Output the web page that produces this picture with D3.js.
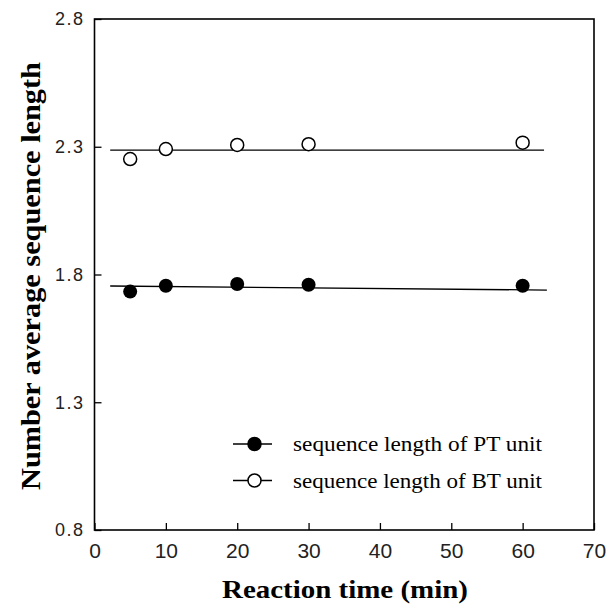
<!DOCTYPE html>
<html>
<head>
<meta charset="utf-8">
<script src="https://cdn.jsdelivr.net/npm/d3@7"></script>
<style>
  body { margin: 0; background: #fff; }
  svg { display: block; }
</style>
</head>
<body>
<svg id="svg"></svg>
<script>
let width = 606, height = 610;
let margin = { top: 19, right: 12, bottom: 80, left: 94.5 };

// reaction time (min)
let times = [5, 10, 20, 30, 60];
// sequence length of PT unit (filled)
let ptValues = [1.733, 1.756, 1.763, 1.760, 1.756];
// sequence length of BT unit (open)
let btValues = [2.252, 2.291, 2.307, 2.310, 2.316];
// fitted lines, [x, y] end points
let ptFit = [[2.2, 1.755], [63.4, 1.739]];
let btFit = [[2.2, 2.287], [63.0, 2.287]];

let xTicks = [0, 10, 20, 30, 40, 50, 60, 70];
let yTicks = [0.8, 1.3, 1.8, 2.3, 2.8];
let legendLabels = ["sequence length of PT unit", "sequence length of BT unit"];

let svg = d3.select("#svg").attr("width", width).attr("height", height);

let xScale = d3.scaleLinear().domain([0, 70]).range([margin.left, width - margin.right]);
let yScale = d3.scaleLinear().domain([0.8, 2.8]).range([height - margin.bottom, margin.top]);

let plotW = xScale(70) - xScale(0);
let plotH = yScale(0.8) - yScale(2.8);

// frame
svg.append("rect")
    .attr("x", xScale(0)).attr("y", yScale(2.8))
    .attr("width", plotW).attr("height", plotH)
    .attr("fill", "none").attr("stroke", "#000").attr("stroke-width", 1.6);

// x axis (ticks pointing in)
let xAxis = svg.append("g")
    .attr("transform", `translate(0, ${yScale(0.8)})`)
    .call(d3.axisBottom(xScale).tickValues(xTicks).tickFormat(d3.format("d"))
        .tickSizeInner(-7).tickSizeOuter(0).tickPadding(13));
xAxis.select(".domain").remove();
xAxis.selectAll("line").attr("stroke-width", 1.3);
xAxis.selectAll("text")
    .attr("font-family", "'Liberation Sans Narrow', 'Liberation Sans', Arial, sans-serif")
    .attr("font-size", 21).attr("fill", "#222");

// y axis
let yAxis = svg.append("g")
    .attr("transform", `translate(${xScale(0)}, 0)`)
    .call(d3.axisLeft(yScale).tickValues(yTicks).tickFormat(d3.format(".1f"))
        .tickSizeInner(-7).tickSizeOuter(0).tickPadding(10));
yAxis.select(".domain").remove();
yAxis.selectAll("line").attr("stroke-width", 1.3);
yAxis.selectAll("text")
    .attr("font-family", "'Liberation Sans', Arial, sans-serif")
    .attr("font-size", 18).attr("letter-spacing", 1.5).attr("fill", "#222");

// fitted lines
let line = d3.line().x(d => xScale(d[0])).y(d => yScale(d[1]));
[ptFit, btFit].forEach(f => {
    svg.append("path").attr("d", line(f))
        .attr("fill", "none").attr("stroke", "#000").attr("stroke-width", 1.3);
});

// points
svg.append("g").selectAll("circle")
    .data(times.map((t, i) => [t, btValues[i]]))
    .join("circle")
    .attr("cx", d => xScale(d[0])).attr("cy", d => yScale(d[1]))
    .attr("r", 6.5).attr("fill", "#fff").attr("stroke", "#000").attr("stroke-width", 1.5);

svg.append("g").selectAll("circle")
    .data(times.map((t, i) => [t, ptValues[i]]))
    .join("circle")
    .attr("cx", d => xScale(d[0])).attr("cy", d => yScale(d[1]))
    .attr("r", 7).attr("fill", "#000");

// legend
let legend = svg.append("g");
let legendRows = [
    { y: 444, fill: "#000", label: legendLabels[0] },
    { y: 480.5, fill: "#fff", label: legendLabels[1] }
];
legendRows.forEach(r => {
    legend.append("line").attr("x1", 233).attr("x2", 272).attr("y1", r.y).attr("y2", r.y)
        .attr("stroke", "#000").attr("stroke-width", 1.3);
    legend.append("circle").attr("cx", 254.5).attr("cy", r.y).attr("r", 6.5)
        .attr("fill", r.fill).attr("stroke", "#000").attr("stroke-width", 1.5);
    legend.append("text").attr("x", 293).attr("y", r.y + 7)
        .attr("font-family", "'Liberation Serif', 'Times New Roman', serif")
        .attr("font-size", 22).attr("textLength", 249).attr("lengthAdjust", "spacingAndGlyphs")
        .text(r.label);
});

// axis titles
svg.append("text")
    .attr("x", 345).attr("y", 598).attr("text-anchor", "middle")
    .attr("font-family", "'Liberation Serif', 'Times New Roman', serif")
    .attr("font-weight", "bold").attr("font-size", 25)
    .attr("textLength", 246).attr("lengthAdjust", "spacingAndGlyphs")
    .text("Reaction time (min)");

svg.append("text")
    .attr("transform", "translate(40, 276) rotate(-90)")
    .attr("text-anchor", "middle")
    .attr("font-family", "'Liberation Serif', 'Times New Roman', serif")
    .attr("font-weight", "bold").attr("font-size", 27)
    .attr("textLength", 428).attr("lengthAdjust", "spacingAndGlyphs")
    .text("Number average sequence length");
</script>
</body>
</html>
